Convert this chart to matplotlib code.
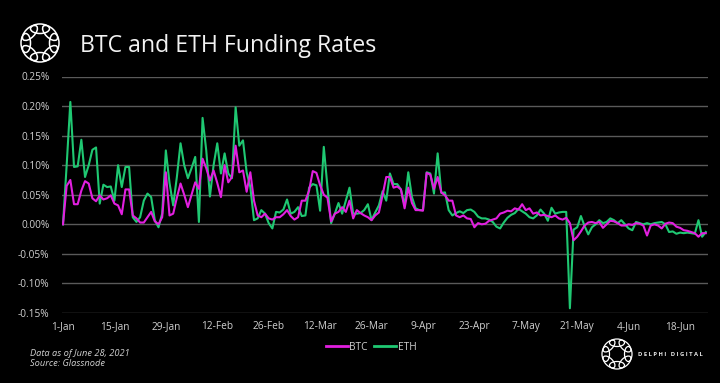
import numpy as np
import pandas as pd
import matplotlib
matplotlib.use("Agg")
import matplotlib.pyplot as plt
import matplotlib.dates as mdates
from matplotlib.patches import Ellipse

# ---------------- data ----------------
eth = [0.000, 0.100, 0.207, 0.097, 0.098, 0.143, 0.080, 0.100, 0.126, 0.130,
       0.035, 0.067, 0.063, 0.064, 0.040, 0.100, 0.063, 0.097, 0.097, 0.012,
       0.004, 0.012, 0.040, 0.052, 0.046, 0.007, -0.005, 0.018, 0.125, 0.070,
       0.032, 0.080, 0.137, 0.100, 0.078, 0.095, 0.114, 0.004, 0.180, 0.125,
       0.047, 0.100, 0.137, 0.086, 0.120, 0.086, 0.078, 0.198, 0.133, 0.142,
       0.088, 0.063, 0.007, 0.010, 0.024, 0.018, 0.002, -0.007, 0.021, 0.020,
       0.025, 0.042, 0.018, 0.021, 0.029, 0.014, 0.015, 0.062, 0.068, 0.066,
       0.023, 0.131, 0.063, 0.002, 0.018, 0.036, 0.018, 0.040, 0.062, 0.018,
       0.018, 0.019, 0.024, 0.034, 0.007, 0.020, 0.032, 0.056, 0.040, 0.086,
       0.068, 0.068, 0.059, 0.032, 0.088, 0.046, 0.027, 0.024, 0.024, 0.088,
       0.086, 0.052, 0.120, 0.053, 0.054, 0.024, 0.015, 0.019, 0.022, 0.019,
       0.024, 0.025, 0.021, 0.013, 0.010, 0.010, 0.008, 0.004, -0.004, -0.007,
       0.003, 0.011, 0.016, 0.019, 0.026, 0.022, 0.018, 0.012, 0.010, 0.015,
       0.025, 0.018, 0.006, 0.028, 0.018, 0.020, 0.021, 0.021, -0.142, -0.009,
       -0.005, 0.014, -0.003, -0.017, -0.005, 0.000, 0.007, 0.002, 0.004, 0.010,
       0.007, 0.002, 0.007, 0.000, -0.007, -0.010, 0.004, 0.002, 0.000, 0.002,
       0.000, 0.002, 0.003, 0.004, 0.000, -0.013, -0.012, -0.016, -0.014, -0.015,
       -0.014, -0.015, -0.016, 0.007, -0.021, -0.013]

btc = [0.000, 0.065, 0.075, 0.034, 0.034, 0.057, 0.073, 0.069, 0.044, 0.039,
       0.049, 0.042, 0.044, 0.049, 0.035, 0.032, 0.017, 0.059, 0.059, 0.015,
       0.010, 0.003, 0.003, 0.012, 0.021, 0.005, 0.000, 0.012, 0.088, 0.015,
       0.018, 0.045, 0.069, 0.050, 0.029, 0.050, 0.071, 0.060, 0.111, 0.095,
       0.074, 0.091, 0.070, 0.046, 0.100, 0.071, 0.080, 0.133, 0.088, 0.091,
       0.055, 0.088, 0.040, 0.015, 0.012, 0.018, 0.010, 0.008, 0.012, 0.012,
       0.017, 0.024, 0.014, 0.008, 0.012, 0.040, 0.040, 0.057, 0.090, 0.087,
       0.066, 0.050, 0.045, 0.005, 0.018, 0.021, 0.029, 0.021, 0.040, 0.010,
       0.024, 0.019, 0.015, 0.012, 0.007, 0.015, 0.020, 0.049, 0.080, 0.080,
       0.062, 0.064, 0.059, 0.027, 0.062, 0.036, 0.024, 0.024, 0.023, 0.087,
       0.084, 0.060, 0.080, 0.054, 0.049, 0.040, 0.040, 0.015, 0.012, 0.015,
       0.010, 0.009, -0.005, 0.002, 0.000, 0.001, 0.006, 0.008, 0.010, 0.018,
       0.020, 0.023, 0.022, 0.027, 0.025, 0.034, 0.024, 0.027, 0.018, 0.020,
       0.015, 0.016, 0.014, 0.012, 0.015, 0.010, 0.008, 0.011, 0.002, -0.027,
       -0.021, -0.012, -0.002, 0.003, 0.004, 0.002, 0.004, -0.006, 0.000, 0.006,
       0.005, 0.002, -0.002, -0.002, 0.000, -0.001, 0.002, 0.001, -0.002, -0.019,
       -0.002, 0.000, -0.002, -0.007, 0.001, 0.003, 0.002, -0.004, -0.006, -0.010,
       -0.011, -0.013, -0.015, -0.021, -0.015, -0.015]

dates = pd.date_range("2021-01-01", periods=len(eth), freq="D")
x_tick_labels = ["1-Jan", "15-Jan", "29-Jan", "12-Feb", "26-Feb", "12-Mar", "26-Mar",
                 "9-Apr", "23-Apr", "7-May", "21-May", "4-Jun", "18-Jun"]
y_ticks = [-0.15, -0.10, -0.05, 0.00, 0.05, 0.10, 0.15, 0.20, 0.25]

# ---------------- style ----------------
BG = "#000000"
GRID = "#5a5a5a"
TXT = "#d0d0d0"
C_BTC = "#e21fe0"
C_ETH = "#1fc872"
FONT = ["Open Sans", "DejaVu Sans"]
plt.rcParams["font.family"] = FONT

W, H = 720, 383
fig = plt.figure(figsize=(W / 100, H / 100), dpi=100, facecolor=BG)

ax = fig.add_axes([62 / W, 1 - 313 / H, (708 - 62) / W, (313 - 76.5) / H])
ax.set_facecolor(BG)

ax.plot(dates, btc, color=C_BTC, lw=1.5, label="BTC", zorder=3)
ax.plot(dates, eth, color=C_ETH, lw=1.5, label="ETH", zorder=2)

ax.set_ylim(-0.15, 0.25)
ax.set_yticks(y_ticks)
ax.set_yticklabels([f"{v:.2f}%" for v in y_ticks])
ax.grid(axis="y", color=GRID, lw=1)
ax.set_axisbelow(True)

tick_dates = pd.date_range("2021-01-01", periods=len(x_tick_labels), freq="14D")
ax.set_xticks(tick_dates)
ax.set_xticklabels(x_tick_labels)
day0 = mdates.date2num(dates[0])
ax.set_xlim(day0 - 0.27, day0 + 175.6)

for s in ax.spines.values():
    s.set_visible(False)
ax.tick_params(axis="both", length=0, colors=TXT, labelsize=7.3)
ax.tick_params(axis="y", pad=9)
ax.tick_params(axis="x", pad=6)

# title
fig.text(80 / W, 1 - 46 / H, "BTC and ETH Funding Rates", color="#f2f2f2",
         fontsize=16.7, va="center", ha="left")

# legend
leg = fig.legend(loc="center", bbox_to_anchor=(371 / W, 1 - 347 / H), ncol=2,
                 frameon=False, fontsize=7.3, handlelength=2.2, handletextpad=0.15,
                 columnspacing=0.6)
for t in leg.get_texts():
    t.set_color(TXT)
for l in leg.get_lines():
    l.set_linewidth(2)

# footnotes
fig.text(30 / W, 1 - 353 / H, "Data as of June 28, 2021", color=TXT,
         fontsize=6.7, style="italic", va="center")
fig.text(30 / W, 1 - 364 / H, "Source: Glassnode", color=TXT,
         fontsize=6.7, style="italic", va="center")


def draw_logo(cx, cy, r, lw):
    lax = fig.add_axes([(cx - r * 1.3) / W, 1 - (cy + r * 1.3) / H,
                        2.6 * r / W, 2.6 * r / H])
    lax.set_xlim(-1.3, 1.3)
    lax.set_ylim(-1.3, 1.3)
    lax.set_aspect("equal")
    lax.axis("off")
    n = 8
    for k in range(n):
        a = 2 * np.pi * k / n + np.pi / 2
        e = Ellipse((0.75 * np.cos(a), 0.75 * np.sin(a)), 1.0, 0.5,
                    angle=np.degrees(a) + 90, fill=False, ec="white", lw=lw)
        lax.add_patch(e)


draw_logo(40, 43, 19, 1.1)
draw_logo(617, 354, 15, 0.9)
fig.text(638 / W, 1 - 354 / H, "D E L P H I   D I G I T A L", color="#e8e8e8",
         fontsize=4.2, va="center", ha="left", fontweight="bold")

fig.savefig("out.png", dpi=100, facecolor=BG)
